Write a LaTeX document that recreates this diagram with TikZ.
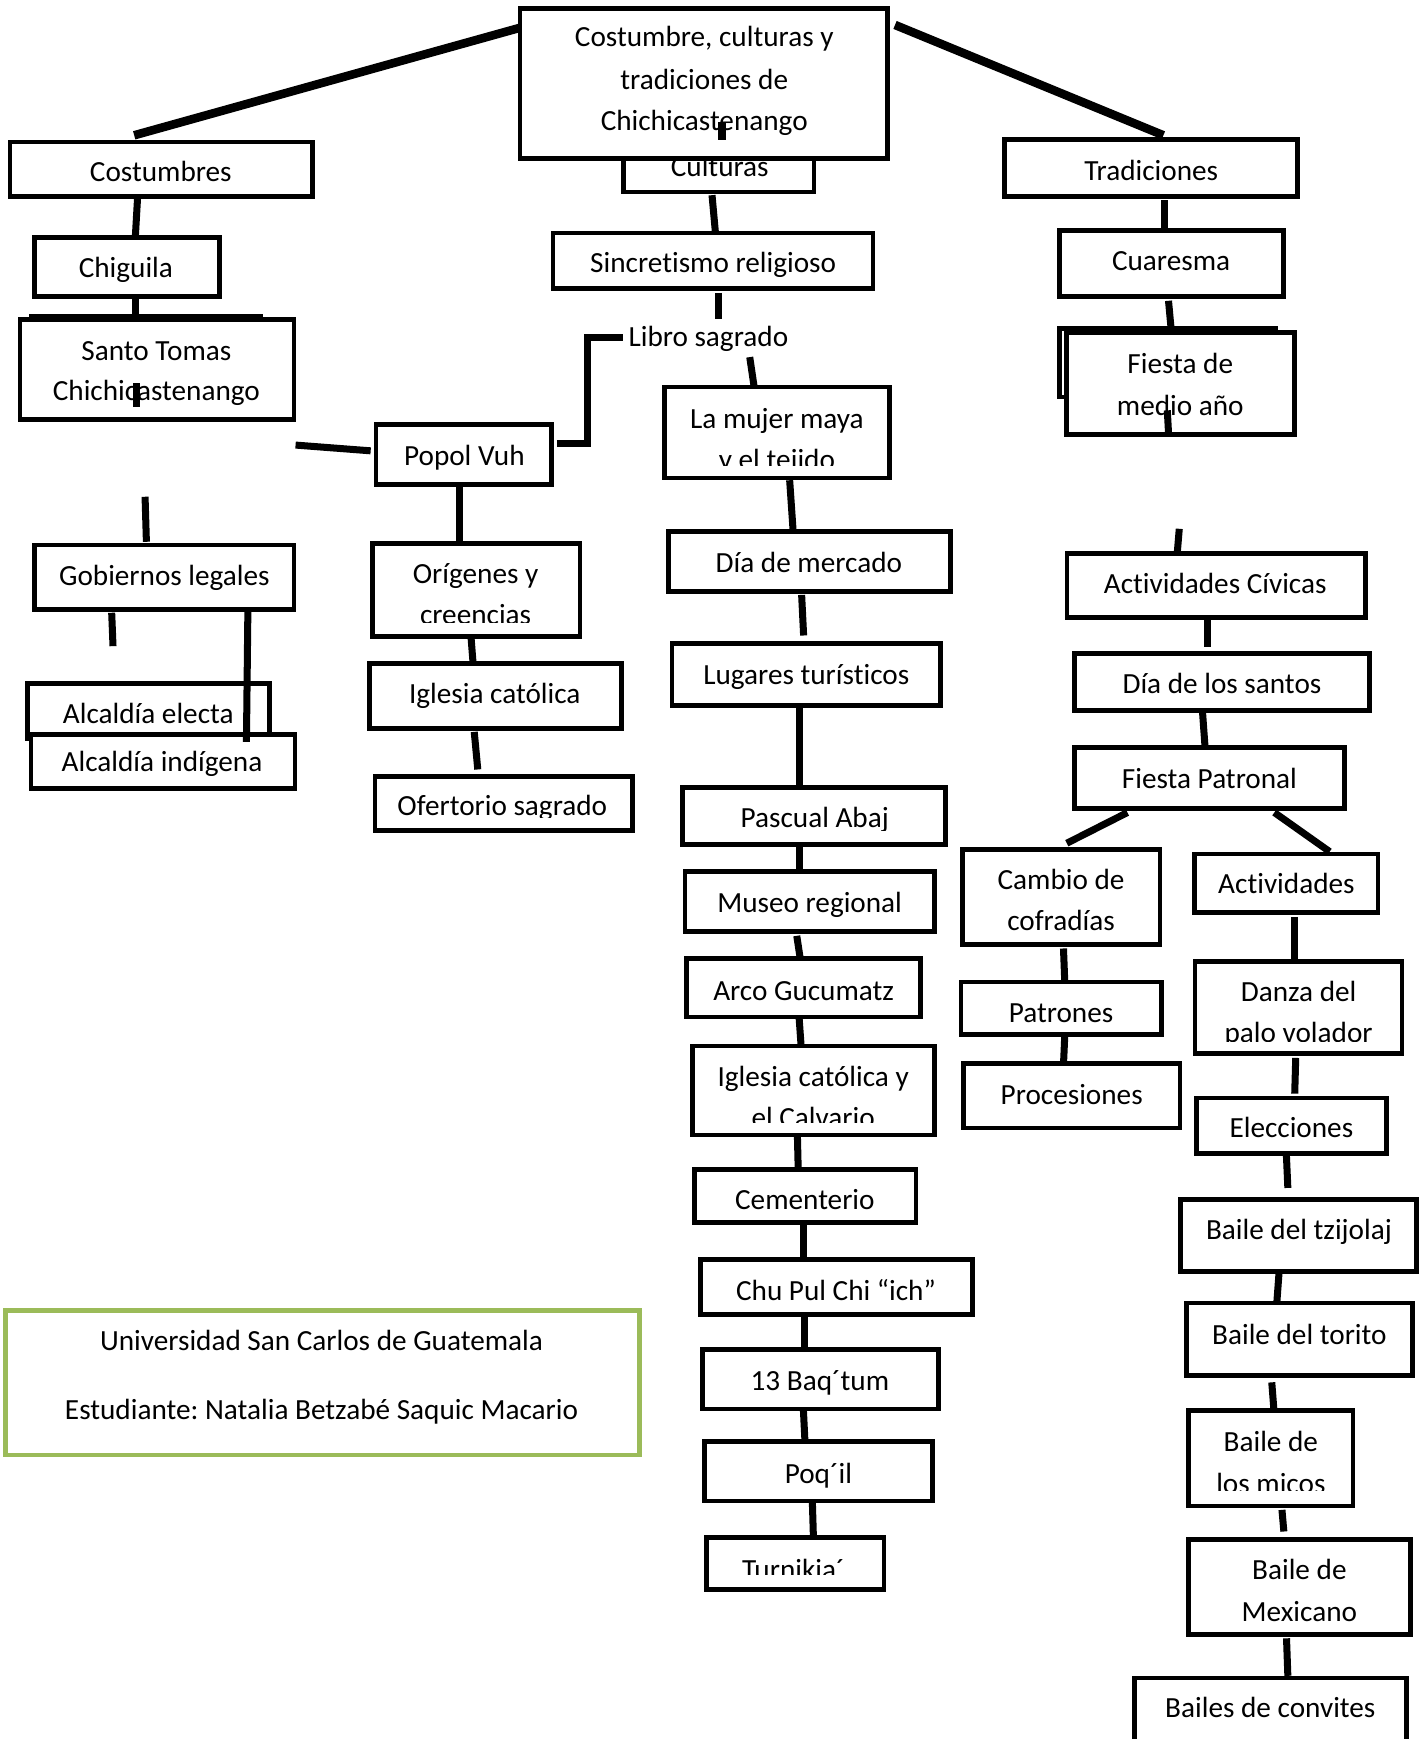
\documentclass[tikz,border=0pt]{standalone}
\usepackage{fontspec}
\setmainfont{Carlito}[Ligatures=NoCommon]
\usetikzlibrary{fit}
\frenchspacing
\newcommand\fs{\fontsize{15}{18}\selectfont}
\newcommand\mybox[3]{\node[bx, fit={(#2) (#3)}] (#1) {};}
\newcommand\mytxt[3]{\node[txt] (#1) at (#2) {#3};}
\newcommand\myctxt[4]{\begin{scope}\clip (0,0) rectangle (1400,#4);\node[txt] (#1) at (#2) {#3};\end{scope}}
\newcommand\myconn[3]{\coordinate (#1a) at (#2); \coordinate (#1b) at (#3); \draw[conn] (#1a) -- (#1b);}
\definecolor{grn}{HTML}{9BBB59}
\begin{document}
\begin{tikzpicture}[x=0.02cm,y=-0.02cm,
  bx/.style={draw=black, line width=2.4pt, fill=white, inner sep=0pt, outer sep=0pt, rectangle},
  txt/.style={inner sep=0pt, anchor=base, font=\fs, text=black},
  conn/.style={draw=black, line width=3.6pt},
  diag/.style={draw=black, line width=4.4pt}]
\useasboundingbox (0,0) rectangle (1287,1568);
\clip (0,0) rectangle (1287,1568);
\fill[white] (0,0) rectangle (1287,1568);

% ---------- top ----------
\mybox{cult}{562,128}{734,173}
\mytxt{cultT}{649,159.5}{Culturas}
\mybox{top}{469,7.5}{800,143}
\mytxt{topA}{635,42.1}{Costumbre, culturas y}
\mytxt{topB}{635,80.6}{tradiciones de}
\mytxt{topC}{635,117.9}{Chichicastenango}
\coordinate (d1a) at (469,25); \coordinate (d1b) at (121,122);
\draw[diag] (d1a) -- (d1b);
\coordinate (d2a) at (807,22.5); \coordinate (d2b) at (1049,122);
\draw[diag] (d2a) -- (d2b);
\myconn{ct}{651,110}{651,126}

% ---------- left column ----------
\mybox{cost}{9,128}{282,177}
\mytxt{costT}{145,163.8}{Costumbres}
\myconn{c1}{124,179}{122,214}
\mybox{chig}{31,214}{198,267.5}
\mytxt{chigT}{113.5,250}{Chiguila}
\myconn{c2}{122,269}{122,287}
\mybox{stoB}{28,285.5}{235,330}
\mybox{sto}{18,288}{265,378}
\mytxt{stoA}{141,324.7}{Santo Tomas}
\mytxt{stoC}{141,360.8}{Chichicastenango}
\myconn{c3}{122.8,345.7}{122.8,366.8}
\myconn{c4}{266.5,401.3}{334.2,406.5}
\myconn{c23}{130.8,447.9}{132,488.5}
\mybox{gob}{31,491.5}{265,549.5}
\mytxt{gobT}{148.2,527.6}{Gobiernos legales}
\myconn{c24}{100.7,552.5}{101.9,582.6}
\mybox{elec}{25,616}{243,666}
\mytxt{elecT}{133.7,652.4}{Alcaldía electa}
\mybox{indi}{28,662}{266,711}
\myctxt{indiT}{146.1,696}{Alcaldía indígena}{699.5}
\myconn{c25}{223.5,550.7}{222.2,668.9}

% ---------- Popol Vuh branch ----------
\mybox{popol}{339,383}{497,437}
\mytxt{popolT}{418.7,419.4}{Popol Vuh}
\coordinate (c5a) at (502,400); \coordinate (c5b) at (562,304);
\draw[conn, line join=miter] (c5a) -- (530,400) -- (530,304) -- (c5b);
\myconn{c20}{413.9,437.4}{413.9,489.4}
\mybox{orig}{336,490}{523,574}
\mytxt{origA}{428.8,526.1}{Orígenes y}
\myctxt{origB}{428.8,563}{creencias}{561.6}
\myconn{c21}{424.8,575.7}{426.8,601.3}
\mybox{iglc}{333,598}{560.5,657}
\mytxt{iglcT}{446.1,634.3}{Iglesia católica}
\myconn{c22}{427.6,659.9}{430.8,693.8}
\mybox{ofer}{338,700}{570,749}
\myctxt{oferT}{452.9,735}{Ofertorio sagrado}{737.5}

% ---------- middle column ----------
\myconn{c6}{642,176}{645,209}
\mybox{sinc}{498.5,210}{787,260}
\myctxt{sincT}{643,246}{Sincretismo religioso}{249}
\myconn{c7}{647.6,264}{647.6,288}
\mytxt{libro}{638.7,312.6}{Libro sagrado}
\myconn{c8}{676,322}{680,349}
\mybox{mujer}{599,349}{802,431}
\mytxt{mujerA}{700.5,386}{La mujer maya}
\myctxt{mujerB}{700.5,423}{y el tejido}{419.5}
\myconn{c9}{712,433}{715,477}
\mybox{merc}{602.5,479.5}{857,533.5}
\mytxt{mercT}{729.3,516.2}{Día de mercado}
\myconn{c10}{722.8,536.4}{724.6,573}
\mybox{lug}{606,580}{848,636}
\mytxt{lugT}{727,616.8}{Lugares turísticos}
\myconn{c11}{720.6,638.6}{720.6,709}
\mybox{pasc}{615.5,710}{852.5,761.5}
\myctxt{pascT}{734.6,746.2}{Pascual Abaj}{749}
\myconn{c12}{720.6,764}{720.6,785}
\mybox{mus}{617.5,785.5}{842.5,840}
\mytxt{musT}{730,823}{Museo regional}
\myconn{c13}{718.4,843.8}{721.5,864}
\mybox{arco}{619,864.5}{830,917}
\mytxt{arcoT}{724.6,901.9}{Arco Gucumatz}
\myconn{c14}{720.6,918.6}{722.4,944.3}
\mybox{iglcal}{624.5,943}{842.5,1023.5}
\mytxt{iglcalA}{733.2,979.4}{Iglesia católica y}
\myctxt{iglcalB}{733.2,1016.4}{el Calvario}{1012}
\myconn{c15}{719,1024.5}{719.7,1053.8}
\mybox{cem}{626,1054.5}{826,1102.5}
\mytxt{cemT}{725.7,1090.6}{Cementerio}
\myconn{c16}{724.4,1104.2}{724.4,1134.6}
\mybox{chu}{631.5,1135.5}{877,1185.5}
\mytxt{chuT}{753.8,1172.2}{Chu Pul Chi “ich”}
\myconn{c17}{725.7,1187.6}{725.7,1217}
\mybox{baq}{633.5,1217}{846,1270.5}
\mytxt{baqT}{739.3,1253.7}{13 Baq´tum}
\myconn{c18}{724.4,1271.4}{725.7,1297.8}
\mybox{poq}{635,1299.5}{840.5,1353.5}
\mytxt{poqT}{737.9,1337.5}{Poq´il}
\myconn{c19}{732.5,1355.2}{733.4,1385.3}
\mybox{turn}{637,1386}{797,1433}
\myctxt{turnT}{715.3,1424}{Turnikia´}{1419.5}

% ---------- right column ----------
\mybox{trad}{906,126}{1170,177}
\mytxt{tradT}{1038,162.3}{Tradiciones}
\myconn{r1}{1049.9,180.4}{1049.9,207.4}
\mybox{cuar}{955,208}{1157.5,267.5}
\mytxt{cuarT}{1055.9,244.1}{Cuaresma}
\myconn{r2}{1053.6,271.2}{1055.9,296.1}
\mybox{fiesB}{955,296}{1150,358}
\mybox{fies}{961.5,299.5}{1167,392}
\mytxt{fiesA}{1064.2,336.7}{Fiesta de}
\mytxt{fiesB2}{1064.2,374.3}{medio año}
\myconn{r3}{1052.5,370}{1053.7,392}
\myconn{r4}{1063.3,476.8}{1061.5,498.4}
\mybox{civ}{962,499}{1231,556.5}
\mytxt{civT}{1095.7,535.2}{Actividades Cívicas}
\myconn{r5}{1088.6,558.3}{1088.6,583.8}
\mybox{sant}{969,589.5}{1235,640.5}
\mytxt{santT}{1101.8,625.5}{Día de los santos}
\myconn{r6}{1084.3,642.6}{1086.5,673}
\mybox{patr}{969,674}{1212,729}
\mytxt{patrT}{1090.5,711}{Fiesta Patronal}
\myconn{r7}{1016.6,732.6}{961.9,760.3}
\myconn{r8}{1149,732.6}{1198.9,767.9}
\mybox{camb}{868,766}{1046,851.5}
\mytxt{cambA}{956.7,802}{Cambio de}
\mytxt{cambB}{956.7,838.8}{cofradías}
\myconn{r9}{958.9,855.2}{960.1,886.7}
\mybox{patn}{866.5,885.5}{1047.5,933}
\mytxt{patnT}{956.7,921.6}{Patrones}
\myconn{r10}{960,934.9}{959,957.7}
\mybox{proc}{869,959}{1064,1017}
\mytxt{procT}{966.3,995.7}{Procesiones}
\mybox{act}{1077,770}{1242.5,823}
\mytxt{actT}{1159.9,805.8}{Actividades}
\myconn{r11}{1167.4,826.8}{1167.4,866.6}
\mybox{danza}{1077.5,867}{1264,950}
\mytxt{danzaA}{1170.9,903.4}{Danza del}
\myctxt{danzaB}{1170.9,940.4}{palo volador}{938.7}
\myconn{r12}{1168.3,953.9}{1167.4,986.1}
\mybox{elecc}{1079,990}{1250,1040}
\mytxt{eleccT}{1164.4,1025.9}{Elecciones}
\myconn{r13}{1159.9,1041.7}{1161.2,1071.1}
\mybox{tzij}{1064.5,1081.5}{1277,1146.5}
\mytxt{tzijT}{1171.2,1117.8}{Baile del tzijolaj}
\myconn{r14}{1153.2,1148.3}{1151.3,1174}
\mybox{tor}{1070,1175}{1273.5,1240}
\mytxt{torT}{1171.6,1211.9}{Baile del torito}
\myconn{r15}{1146.7,1246.4}{1148.5,1269.6}
\mybox{mic}{1071.5,1272}{1220,1358}
\mytxt{micA}{1145.9,1308.9}{Baile de}
\myctxt{micB}{1145.9,1346.5}{los micos}{1343.5}
\myconn{r16}{1155.9,1361.4}{1157.6,1380.9}
\mybox{mex}{1071.5,1388}{1272,1474}
\mytxt{mexA}{1171.6,1424.6}{Baile de}
\mytxt{mexB}{1171.6,1461.8}{Mexicano}
\myconn{r17}{1160,1477.2}{1161.2,1511}
\mybox{conv}{1023,1513}{1268,1600}
\mytxt{convT}{1145.4,1548.9}{Bailes de convites}

% ---------- green box ----------
\node[draw=grn, line width=2.2pt, fill=white, inner sep=0pt, fit={(5,1181.5) (576.5,1312)}] (green) {};
\mytxt{greenA}{289.9,1218.1}{Universidad San Carlos de Guatemala}
\mytxt{greenB}{289.9,1280.1}{Estudiante: Natalia Betzabé Saquic Macario}
\end{tikzpicture}
\end{document}
